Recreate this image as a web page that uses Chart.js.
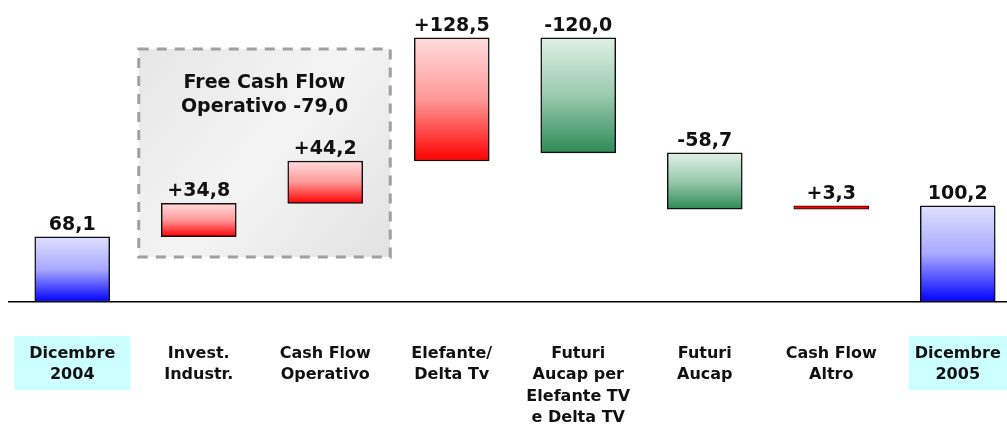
<!DOCTYPE html>
<html>
<head>
<meta charset="utf-8" />
<title>Free Cash Flow 2005</title>
<script src="https://cdn.jsdelivr.net/npm/chart.js@4.4.1/dist/chart.umd.min.js"></script>
<style>
  body, html { margin: 0; padding: 0; background: white; overflow: hidden; width: 100%; height: 100%; }
  #wrap { width: 1021px; height: 425px; }
</style>
</head>
<body>
<div id="wrap"><canvas id="myChart" width="1021" height="425"></canvas></div>
<script>
// waterfall data
const categories = [
    ['Dicembre', '2004'],
    ['Invest.', 'Industr.'],
    ['Cash Flow', 'Operativo'],
    ['Elefante/', 'Delta Tv'],
    ['Futuri', 'Aucap per', 'Elefante TV', 'e Delta TV'],
    ['Futuri', 'Aucap'],
    ['Cash Flow', 'Altro'],
    ['Dicembre', '2005']
];
const deltas = [68.1, 34.8, 44.2, 128.5, -120.0, -58.7, 3.3, 100.2];
const kinds = ['total', 'up', 'up', 'up', 'down', 'down', 'up', 'total'];
const valueText = ['68,1', '+34,8', '+44,2', '+128,5', '-120,0', '-58,7', '+3,3', '100,2'];
const highlighted = [0, 7];
const boxTitle = ['Free Cash Flow', 'Operativo -79,0'];

// floating ranges from the running total
const ranges = [];
let level = 0;
deltas.forEach((d, i) => {
    if (kinds[i] === 'total') { ranges.push([0, d]); level = d; }
    else { ranges.push([level, level + d]); level += d; }
});

const gradStops = {
    total: ['#e0e0ff', '#a8a8ff', '#0000ff'],
    up:    ['#ffdcdc', '#ff9898', '#ff0000'],
    down:  ['#e0f0e6', '#9acaae', '#2e8b57']
};

function barFill(c) {
    const stops = gradStops[kinds[c.dataIndex]];
    const chart = c.chart;
    const y = chart.scales.y;
    if (!chart.chartArea || !y) return stops[2];
    const r = ranges[c.dataIndex];
    const top = y.getPixelForValue(Math.max(r[0], r[1]));
    const bot = y.getPixelForValue(Math.min(r[0], r[1]));
    if (bot - top < 6) return stops[2]; // tiny bar: plain colour
    const g = chart.ctx.createLinearGradient(0, top, 0, bot);
    g.addColorStop(0, stops[0]);
    g.addColorStop(0.5, stops[1]);
    g.addColorStop(1, stops[2]);
    return g;
}

const FONT = 'DejaVu Sans';

const decor = {
    id: 'decor',
    beforeDraw(chart) {
        // cyan background behind the two year labels
        const { ctx, scales: { x } } = chart;
        const offs = [-58, -49];
        ctx.save();
        ctx.fillStyle = '#ccffff';
        highlighted.forEach((i, k) => {
            ctx.fillRect(x.getPixelForValue(i) + offs[k], 336, 116, 54);
        });
        ctx.restore();
    },
    beforeDatasetsDraw(chart) {
        // dashed grey box around the operating cash flow items
        const { ctx, scales: { x, y } } = chart;
        const l = x.getPixelForValue(1) - 60, r = x.getPixelForValue(2) + 65;
        const t = y.getPixelForValue(264), b = y.getPixelForValue(47);
        ctx.save();
        const g = ctx.createLinearGradient(l, t, r, b);
        g.addColorStop(0, '#e6e6e6');
        g.addColorStop(0.5, '#f4f4f4');
        g.addColorStop(1, '#e2e2e2');
        ctx.fillStyle = g;
        ctx.fillRect(l, t, r - l, b - t);
        ctx.setLineDash([10, 8]);
        ctx.lineWidth = 3;
        ctx.strokeStyle = '#a0a0a0';
        ctx.strokeRect(l, t, r - l, b - t);
        ctx.restore();
    },
    afterDatasetsDraw(chart) {
        const { ctx, scales: { x, y } } = chart;
        const bars = chart.getDatasetMeta(0).data;
        ctx.save();
        ctx.fillStyle = '#111';
        ctx.textAlign = 'center';
        ctx.textBaseline = 'alphabetic';
        ctx.font = 'bold 19px "' + FONT + '"';
        bars.forEach((el, i) => {
            ctx.fillText(valueText[i], el.x, Math.min(el.y, el.base) - 7);
        });
        // box title
        const cx = (x.getPixelForValue(1) - 60 + x.getPixelForValue(2) + 65) / 2;
        const t = y.getPixelForValue(264);
        ctx.font = 'bold 19px "' + FONT + '"';
        ctx.fillText(boxTitle[0], cx, t + 39);
        ctx.fillText(boxTitle[1], cx, t + 63);
        ctx.restore();
    }
};

const config = {
    type: 'bar',
    data: {
        labels: categories,
        datasets: [{
            data: ranges,
            backgroundColor: barFill,
            borderColor: '#111',
            borderWidth: c => Math.abs(deltas[c.dataIndex]) < 5 ? 1 : 1.5,
            borderSkipped: false,
            barThickness: 75
        }]
    },
    options: {
        responsive: false,
        animation: false,
        layout: { padding: { left: 9, right: 0, top: 0, bottom: 0 } },
        scales: {
            x: {
                grid: { display: false, drawTicks: false },
                border: { display: true, color: '#000', width: 1.5 },
                ticks: {
                    padding: 41,
                    color: '#111',
                    autoSkip: false,
                    maxRotation: 0,
                    font: { family: FONT, weight: 'bold', size: 16, lineHeight: 1.34 }
                },
                afterFit(s) {
                    s.height = 123;
                    s.paddingLeft = 0;
                    s.paddingRight = 0;
                }
            },
            y: { display: false, min: 0, max: 315 }
        },
        plugins: {
            legend: { display: false },
            tooltip: { enabled: false }
        }
    },
    plugins: [decor]
};

new Chart(document.getElementById('myChart').getContext('2d'), config);
</script>
</body>
</html>
